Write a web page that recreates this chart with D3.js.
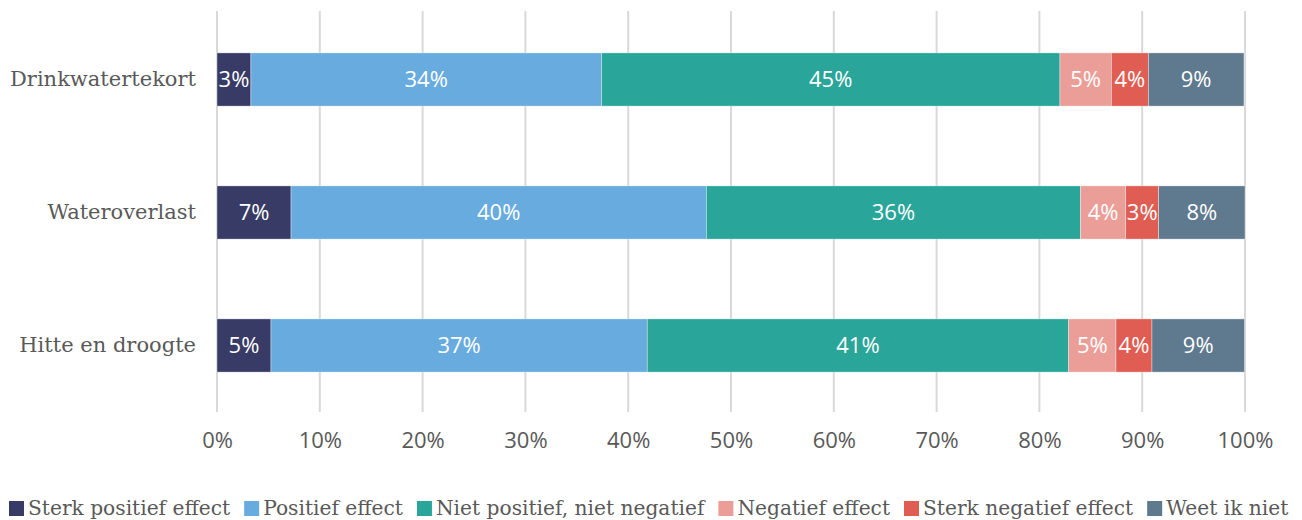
<!DOCTYPE html>
<html><head><meta charset="utf-8">
<script src="https://cdn.jsdelivr.net/npm/d3@7"></script>
<style>body{margin:0;background:#fff}svg{display:block}</style>
</head><body>
<svg id="chart" width="1302" height="520"></svg>
<script>
const categories = ["Drinkwatertekort", "Wateroverlast", "Hitte en droogte"];
const seriesNames = ["Sterk positief effect", "Positief effect", "Niet positief, niet negatief", "Negatief effect", "Sterk negatief effect", "Weet ik niet"];
const sterkPositief = [3.3, 7.2, 5.25];
const positief = [34.1, 40.4, 36.6];
const neutraal = [44.6, 36.4, 41.0];
const negatief = [5.0, 4.4, 4.6];
const sterkNegatief = [3.6, 3.2, 3.5];
const weetNiet = [9.3, 8.4, 9.0];
const tickValues = [0, 10, 20, 30, 40, 50, 60, 70, 80, 90, 100];
const colors = ["#383b66", "#68abdf", "#2aa59a", "#eb9e97", "#df5d52", "#5f7a8f"];

const seriesValues = [sterkPositief, positief, neutraal, negatief, sterkNegatief, weetNiet];
const rows = categories.map((c, i) => {
  const r = {cat: c};
  seriesNames.forEach((s, j) => r[s] = seriesValues[j][i]);
  return r;
});
const stacked = d3.stack().keys(seriesNames)(rows);

const W = 1302, H = 520;
const margin = {top: 13, right: 57, bottom: 108, left: 217};
const svg = d3.select("#chart");
const x = d3.scaleLinear().domain([0, 100]).range([margin.left, W - margin.right]);
const y = d3.scaleBand().domain(categories).range([margin.top, H - margin.bottom]).paddingInner(0.6).paddingOuter(0.3);
const color = d3.scaleOrdinal().domain(seriesNames).range(colors);

// gridlines
svg.append("g").selectAll("line").data(tickValues).join("line")
  .attr("x1", d => x(d)).attr("x2", d => x(d))
  .attr("y1", margin.top - 2).attr("y2", H - margin.bottom)
  .attr("stroke", "#d9d9d9").attr("stroke-width", 2);

// x axis labels
const xAxis = d3.axisBottom(x).tickValues(tickValues).tickFormat(d => d + "%").tickSize(0).tickPadding(0);
const gx = svg.append("g").attr("transform", `translate(0,${H - margin.bottom + 36})`).call(xAxis);
gx.select(".domain").remove();
gx.selectAll("text").attr("font-family", "'Open Sans', sans-serif").attr("font-size", 22).attr("fill", "#595959").attr("dy", "0");

// y axis labels
const yAxis = d3.axisLeft(y).tickSize(0).tickPadding(21);
const gy = svg.append("g").attr("transform", `translate(${margin.left},0)`).call(yAxis);
gy.select(".domain").remove();
gy.selectAll("text").attr("font-family", "'DejaVu Serif', serif").attr("font-size", 21).attr("fill", "#595959");

// bars
const groups = svg.append("g").selectAll("g").data(stacked).join("g").attr("fill", d => color(d.key));
groups.selectAll("rect").data(d => d).join("rect")
  .attr("x", d => x(d[0])).attr("width", d => x(d[1]) - x(d[0]))
  .attr("y", d => y(d.data.cat)).attr("height", y.bandwidth())
  .attr("stroke", "#ffffff").attr("stroke-width", 0.6).attr("stroke-opacity", 0.6);

// data labels
groups.selectAll("text").data(d => d).join("text")
  .attr("x", d => (x(d[0]) + x(d[1])) / 2)
  .attr("y", d => y(d.data.cat) + y.bandwidth() / 2)
  .attr("dy", "0.35em").attr("text-anchor", "middle")
  .attr("font-family", "'Open Sans', sans-serif").attr("font-size", 22).attr("fill", "#ffffff")
  .text(d => Math.round(d[1] - d[0]) + "%");

// legend
const legend = svg.append("g").attr("transform", `translate(0,${H - 12})`);
let lx = 9;
seriesNames.forEach((s, i) => {
  const g = legend.append("g").attr("transform", `translate(${lx},0)`);
  g.append("rect").attr("x", 0).attr("y", -7).attr("width", 15).attr("height", 15).attr("fill", colors[i]);
  const t = g.append("text").attr("x", 19).attr("y", 0).attr("dy", "0.35em")
    .attr("font-family", "'DejaVu Serif', serif").attr("font-size", 20.2).attr("fill", "#595959").text(s);
  lx += 19 + t.node().getComputedTextLength() + 14;
});
</script>
</body></html>
